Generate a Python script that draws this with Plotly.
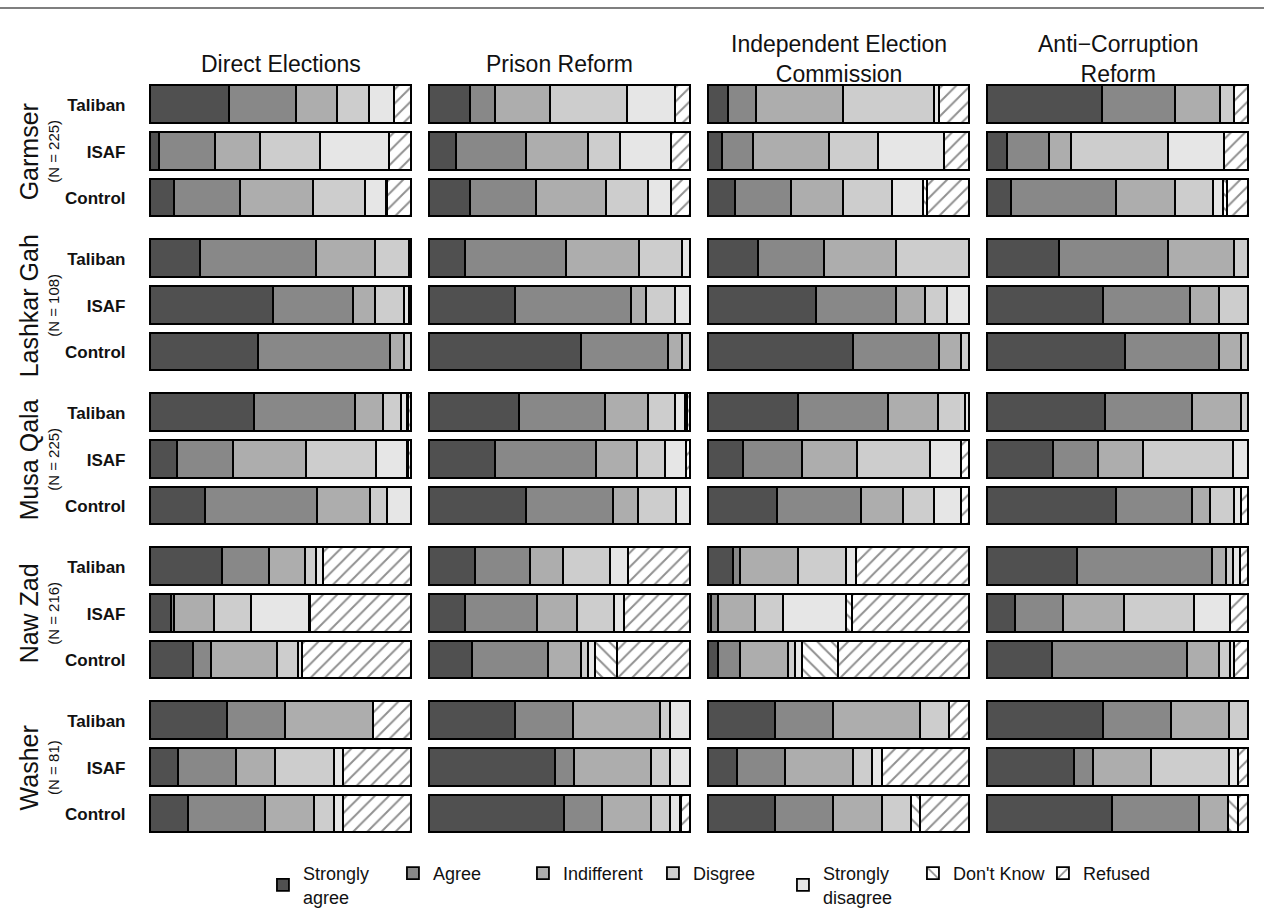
import plotly.graph_objects as go

W, H = 1264, 915

categories = ["Strongly<br>agree", "Agree", "Indifferent", "Disgree",
              "Strongly<br>disagree", "Don't Know", "Refused"]
fills = ["#505050", "#888888", "#adadad", "#cdcdcd", "#e6e6e6", "#ffffff", "#ffffff"]
patterns = ["", "", "", "", "", "\\", "/"]

reforms = ["Direct Elections", "Prison Reform",
           "Independent Election<br>Commission", "Anti\u2212Corruption<br>Reform"]
districts = ["Garmser", "Lashkar Gah", "Musa Qala", "Naw Zad", "Washer"]
district_n = ["(N = 225)", "(N = 108)", "(N = 225)", "(N = 216)", "(N = 81)"]
groups = ["Taliban", "ISAF", "Control"]

# percentages per row: SA, A, I, D, SD, DK, Refused ; rows = district x group
direct_elections = [
    [30.5, 25.5, 16.0, 12.2, 9.4, 0.0, 6.4],
    [3.8, 21.4, 17.3, 22.9, 26.5, 0.0, 8.1],
    [9.2, 25.4, 28.1, 20.0, 8.0, 0.4, 8.9],
    [19.2, 44.6, 22.7, 13.0, 0.5, 0.0, 0.0],
    [47.2, 30.8, 8.5, 11.0, 2.0, 0.0, 0.5],
    [41.7, 50.4, 5.4, 2.5, 0.0, 0.0, 0.0],
    [40.1, 38.7, 10.6, 6.8, 2.4, 0.6, 0.8],
    [10.5, 21.5, 27.9, 26.9, 11.8, 0.5, 0.9],
    [21.3, 42.8, 20.3, 6.7, 8.9, 0.0, 0.0],
    [27.8, 18.1, 13.8, 4.2, 2.7, 0.0, 33.4],
    [8.1, 1.2, 15.6, 13.8, 22.4, 0.4, 38.5],
    [16.7, 6.9, 25.1, 8.3, 1.3, 0.0, 41.7],
    [29.6, 22.3, 33.6, 0.0, 0.0, 0.0, 14.5],
    [11.0, 22.3, 14.9, 22.3, 3.6, 0.0, 25.9],
    [14.7, 29.7, 18.6, 7.6, 3.5, 0.0, 25.9],
]
prison_reform = [
    [16.0, 9.3, 21.2, 29.6, 18.5, 0.0, 5.4],
    [10.6, 26.8, 23.9, 11.9, 19.8, 0.0, 7.0],
    [16.0, 25.3, 26.6, 16.2, 8.9, 0.0, 7.0],
    [13.9, 38.8, 27.8, 16.6, 2.9, 0.0, 0.0],
    [33.3, 44.4, 5.6, 11.1, 5.6, 0.0, 0.0],
    [58.4, 33.3, 5.5, 2.8, 0.0, 0.0, 0.0],
    [34.6, 33.2, 16.3, 10.5, 3.7, 0.6, 1.1],
    [25.3, 38.7, 16.0, 10.7, 8.0, 0.0, 1.3],
    [37.4, 33.2, 9.5, 14.8, 5.1, 0.0, 0.0],
    [18.0, 20.8, 12.6, 18.0, 6.9, 0.0, 23.7],
    [13.9, 27.7, 15.2, 14.2, 3.8, 0.0, 25.2],
    [16.6, 29.2, 12.6, 2.7, 2.7, 8.4, 27.8],
    [33.3, 22.2, 33.3, 3.7, 7.5, 0.0, 0.0],
    [48.3, 7.3, 29.6, 7.4, 7.4, 0.0, 0.0],
    [51.9, 14.7, 18.6, 7.4, 3.6, 0.4, 3.4],
]
independent_commission = [
    [8.0, 10.6, 33.4, 34.6, 2.2, 0.0, 11.2],
    [5.4, 12.0, 29.3, 18.6, 25.4, 0.0, 9.3],
    [10.7, 21.3, 20.0, 18.6, 12.0, 1.4, 16.0],
    [19.5, 25.0, 27.7, 27.8, 0.0, 0.0, 0.0],
    [41.7, 30.5, 11.1, 8.3, 8.4, 0.0, 0.0],
    [55.6, 33.2, 8.5, 2.7, 0.0, 0.0, 0.0],
    [34.7, 34.6, 18.9, 10.5, 1.3, 0.0, 0.0],
    [13.5, 22.6, 21.3, 27.8, 12.1, 0.0, 2.7],
    [26.8, 31.9, 16.1, 12.1, 10.4, 0.0, 2.7],
    [9.8, 2.7, 22.3, 18.2, 3.8, 0.0, 43.2],
    [1.4, 2.8, 13.9, 11.0, 24.0, 2.3, 44.6],
    [4.2, 8.3, 18.4, 2.7, 2.5, 13.9, 50.0],
    [26.0, 22.2, 33.3, 11.1, 0.0, 0.0, 7.4],
    [11.2, 18.5, 25.9, 7.4, 3.7, 0.0, 33.3],
    [26.0, 22.2, 18.5, 11.1, 0.0, 3.7, 18.5],
]
anti_corruption = [
    [44.1, 28.0, 17.4, 5.4, 0.0, 0.0, 5.1],
    [7.9, 16.1, 8.2, 37.3, 21.5, 0.0, 9.0],
    [9.5, 40.0, 22.6, 14.8, 3.8, 1.3, 8.0],
    [27.9, 41.7, 25.1, 5.3, 0.0, 0.0, 0.0],
    [44.6, 33.4, 11.0, 11.0, 0.0, 0.0, 0.0],
    [52.9, 36.1, 8.4, 2.6, 0.0, 0.0, 0.0],
    [45.5, 33.4, 18.5, 2.6, 0.0, 0.0, 0.0],
    [25.6, 17.1, 17.4, 34.5, 5.4, 0.0, 0.0],
    [49.5, 29.4, 6.6, 9.3, 2.6, 0.0, 2.6],
    [34.8, 51.5, 5.4, 2.9, 2.6, 0.0, 2.8],
    [11.1, 18.2, 23.4, 26.9, 13.8, 0.0, 6.6],
    [25.1, 51.7, 12.3, 4.3, 1.3, 0.0, 5.3],
    [44.6, 26.0, 22.4, 7.0, 0.0, 0.0, 0.0],
    [33.5, 7.4, 22.3, 29.8, 3.5, 0.0, 3.5],
    [48.2, 33.2, 11.1, 0.0, 0.0, 3.7, 3.8],
]
reform_data = [direct_elections, prison_reform, independent_commission, anti_corruption]

FONT = "Liberation Sans, Arial, Helvetica, sans-serif"
INK = "#111111"

# layout geometry (pixels)
col_left = [150, 429, 708, 987]
col_w = 261
first_center = 106
group_pitch = 155.2
band = 47
pad_px = 2.5

fig = go.Figure()
layout = dict(
    width=W, height=H, margin=dict(l=0, r=0, t=0, b=0),
    paper_bgcolor="white", plot_bgcolor="white",
    barmode="stack", bargap=0,
    font=dict(family=FONT, color=INK),
    showlegend=True,
)

annotations = []
for r in range(len(districts)):
    top = first_center + r * group_pitch - band / 2
    bottom = top + 3 * band
    for c in range(len(reforms)):
        k = r * len(reforms) + c + 1
        xa = "x" if k == 1 else f"x{k}"
        ya = "y" if k == 1 else f"y{k}"
        x0 = col_left[c] - pad_px
        x1 = col_left[c] + col_w + pad_px
        pad = pad_px / col_w * 100
        layout["xaxis" if k == 1 else f"xaxis{k}"] = dict(
            domain=[x0 / W, x1 / W], range=[-pad, 100 + pad], visible=False,
            anchor=ya, fixedrange=True)
        layout["yaxis" if k == 1 else f"yaxis{k}"] = dict(
            domain=[1 - bottom / H, 1 - top / H], type="category",
            categoryorder="array", categoryarray=groups, range=[2.5, -0.5],
            showticklabels=(c == 0), ticks="", showgrid=False, zeroline=False,
            showline=False, anchor=xa, ticklabelstandoff=21,
            tickfont=dict(family=FONT, size=17, color=INK, weight="bold"),
            fixedrange=True)
        rows = reform_data[c][r * 3:(r + 1) * 3]
        for j, cat in enumerate(categories):
            fig.add_trace(go.Bar(
                x=[row[j] for row in rows], y=groups, orientation="h",
                name=cat, legendgroup=cat, showlegend=(k == 1),
                width=0.81,
                marker=dict(color=fills[j], line=dict(color="#000000", width=1.8),
                            pattern=dict(shape=patterns[j], fgcolor="#222222",
                                         bgcolor="#ffffff", size=10, solidity=0.2)),
                xaxis=xa, yaxis=ya, hoverinfo="skip"))
    # district labels
    yc = first_center + r * group_pitch + band
    annotations.append(dict(text=districts[r], x=28.5 / W, y=1 - yc / H, xref="paper",
                            yref="paper", textangle=-90, showarrow=False,
                            font=dict(family=FONT, size=25, color=INK),
                            xanchor="center", yanchor="middle"))
    annotations.append(dict(text=district_n[r], x=54 / W, y=1 - yc / H, xref="paper",
                            yref="paper", textangle=-90, showarrow=False,
                            font=dict(family=FONT, size=15, color=INK),
                            xanchor="center", yanchor="middle"))

# column titles
for c, title in enumerate(reforms):
    yc = 64 if "<br>" not in title else 59
    annotations.append(dict(text=title, x=(col_left[c] + col_w / 2) / W, y=1 - yc / H,
                            xref="paper", yref="paper", showarrow=False,
                            xanchor="center", yanchor="middle",
                            font=dict(family=FONT, size=23, color=INK)))

layout["annotations"] = annotations
layout["shapes"] = [dict(type="line", xref="paper", yref="paper", x0=0, x1=1,
                         y0=1 - 8 / H, y1=1 - 8 / H,
                         line=dict(color="#555555", width=1.5))]
layout["legend"] = dict(orientation="h", x=0.568, xanchor="center",
                        y=1 - 892 / H, yanchor="middle", valign="middle",
                        font=dict(family=FONT, size=18, color=INK),
                        itemwidth=30, traceorder="normal",
                        entrywidth=85, entrywidthmode="pixels")
fig.update_layout(**layout)

fig.write_html("out.html", config={"displayModeBar": False},
               post_script="document.body.style.margin='0px';document.body.style.overflow='hidden';")
